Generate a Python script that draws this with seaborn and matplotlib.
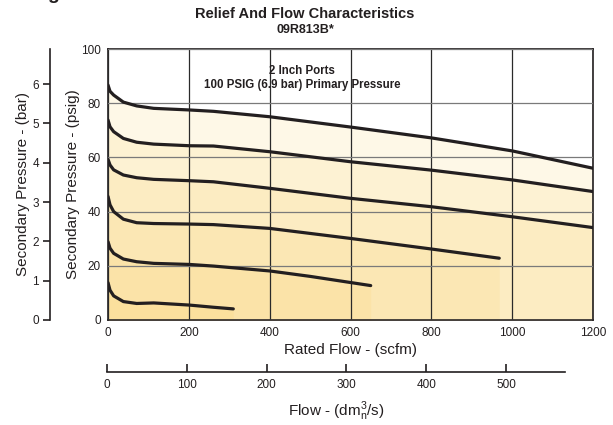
import numpy as np
import pandas as pd
import matplotlib
matplotlib.use("Agg")
import matplotlib.pyplot as plt
import seaborn as sns

# Flow curves (flow in scfm, secondary pressure in psig)
flow_1 = [0, 5, 14, 38, 71, 113, 202, 261, 400, 600, 800, 1000, 1200]
psig_1 = [86.7, 84.4, 83.0, 80.4, 79.0, 78.1, 77.5, 77.0, 75.0, 71.2, 67.2, 62.4, 56.0]

flow_2 = [0, 5, 14, 38, 71, 113, 202, 261, 400, 600, 800, 1000, 1200]
psig_2 = [73.8, 71.3, 69.5, 67.0, 65.6, 64.9, 64.3, 64.2, 62.1, 58.4, 55.3, 51.7, 47.4]

flow_3 = [0, 5, 14, 38, 71, 113, 202, 261, 400, 600, 800, 1000, 1200]
psig_3 = [59.3, 57.2, 55.4, 53.5, 52.5, 51.9, 51.4, 51.0, 48.6, 44.9, 41.8, 38.1, 34.1]

flow_4 = [0, 5, 14, 38, 71, 113, 202, 261, 400, 600, 800, 968]
psig_4 = [45.6, 42.5, 40.0, 37.2, 35.9, 35.6, 35.4, 35.2, 33.8, 30.1, 26.2, 22.8]

flow_5 = [0, 5, 14, 38, 71, 113, 202, 261, 400, 500, 650]
psig_5 = [28.9, 26.5, 24.6, 22.5, 21.5, 20.9, 20.5, 19.9, 18.1, 16.1, 12.7]

flow_6 = [0, 5, 14, 38, 71, 113, 202, 261, 310]
psig_6 = [13.8, 11.0, 8.9, 6.8, 6.1, 6.3, 5.5, 4.7, 4.1]

curves = [(flow_1, psig_1), (flow_2, psig_2), (flow_3, psig_3),
          (flow_4, psig_4), (flow_5, psig_5), (flow_6, psig_6)]

scfm_ticks = [0, 200, 400, 600, 800, 1000, 1200]
psig_ticks = [0, 20, 40, 60, 80, 100]
bar_ticks = [0, 1, 2, 3, 4, 5, 6]
dm3_ticks = [0, 100, 200, 300, 400, 500]

rows = []
for i, (f, p) in enumerate(curves):
    for fv, pv in zip(f, p):
        rows.append({"curve": i, "flow": fv, "psig": pv})
df = pd.DataFrame(rows)

sns.set_style("white")
plt.rcParams["font.family"] = ["Liberation Sans", "DejaVu Sans"]

W, H = 613, 425
fig = plt.figure(figsize=(W / 100, H / 100), dpi=100)

def box(x0, y0, x1, y1):
    # pixel box -> figure fraction
    return [x0 / W, 1 - y1 / H, (x1 - x0) / W, (y1 - y0) / H]

ax = fig.add_axes(box(108, 49, 593, 320))

# layered yellow shading under each curve
for f, p in curves:
    ax.fill_between(f, 0, p, color="#FBD064", alpha=0.15, lw=0, zorder=1)

sns.lineplot(data=df, x="flow", y="psig", hue="curve", units="curve",
             estimator=None, sort=False, palette=["#231F20"] * 6,
             linewidth=2.3, legend=False, ax=ax, zorder=4)

ax.set_xlim(0, 1200)
ax.set_ylim(0, 100)
ax.set_xticks(scfm_ticks)
ax.set_yticks(psig_ticks)
ax.xaxis.grid(True, color="#2a2a2a", lw=0.9)
ax.yaxis.grid(True, color="#7a7a7a", lw=0.9)
ax.set_axisbelow(False)
for s in ax.spines.values():
    s.set_color("#231F20")
    s.set_linewidth(1.2)
    s.set_visible(True)
ax.tick_params(length=0, labelsize=8.5, colors="#231F20", pad=5)
ax.set_xlabel("Rated Flow - (scfm)", fontsize=11, color="#231F20", labelpad=3)
ax.set_ylabel("Secondary Pressure - (psig)", fontsize=11, color="#231F20")
ax.yaxis.set_label_coords(-0.058, 0.5)

ax.text(480, 92, "2 Inch Ports", ha="center", va="center",
        fontsize=8.3, fontweight="bold", color="#231F20")
ax.text(480, 86.6, "100 PSIG (6.9 bar) Primary Pressure", ha="center", va="center",
        fontsize=8.3, fontweight="bold", color="#231F20")

# secondary bar scale on the left
axb = fig.add_axes(box(50, 49, 51, 320))
axb.set_ylim(0, 100 / 14.5038)
axb.set_yticks(bar_ticks)
axb.set_xticks([])
axb.patch.set_alpha(0)
for k in ["top", "right", "bottom"]:
    axb.spines[k].set_visible(False)
axb.spines["left"].set_color("#231F20")
axb.spines["left"].set_linewidth(1.2)
axb.tick_params(axis="y", left=True, direction="out", length=5, width=1.2,
                labelsize=8.5, colors="#231F20", pad=3)
axb.set_ylabel("Secondary Pressure - (bar)", fontsize=11, color="#231F20")
axb.yaxis.set_label_coords(-20, 0.5)

# secondary flow scale at the bottom
axf = fig.add_axes(box(107, 371, 565, 372))
axf.set_xlim(0, 574)
axf.set_xticks(dm3_ticks)
axf.set_yticks([])
axf.patch.set_alpha(0)
for k in ["top", "right", "left"]:
    axf.spines[k].set_visible(False)
axf.spines["bottom"].set_color("#231F20")
axf.spines["bottom"].set_linewidth(1.2)
axf.tick_params(axis="x", bottom=True, direction="in", length=6, width=1.2,
                labelsize=8.5, colors="#231F20", pad=5)
axf.set_xlabel(r"Flow - (dm$_\mathregular{n}^\mathregular{3}$/s)", fontsize=11,
               color="#231F20", labelpad=6)

fig.text(305 / W, 1 - 14 / H, "Relief And Flow Characteristics", ha="center",
         va="center", fontsize=10.5, fontweight="bold", color="#231F20")
fig.text(305 / W, 1 - 30 / H, "09R813B*", ha="center", va="center",
         fontsize=9, fontweight="bold", color="#231F20")
fig.text(53 / W, 1 + 1.5 / H, "g", ha="center", va="baseline",
         fontsize=14, fontweight="bold", color="#231F20")

fig.savefig("out.png", dpi=100)
